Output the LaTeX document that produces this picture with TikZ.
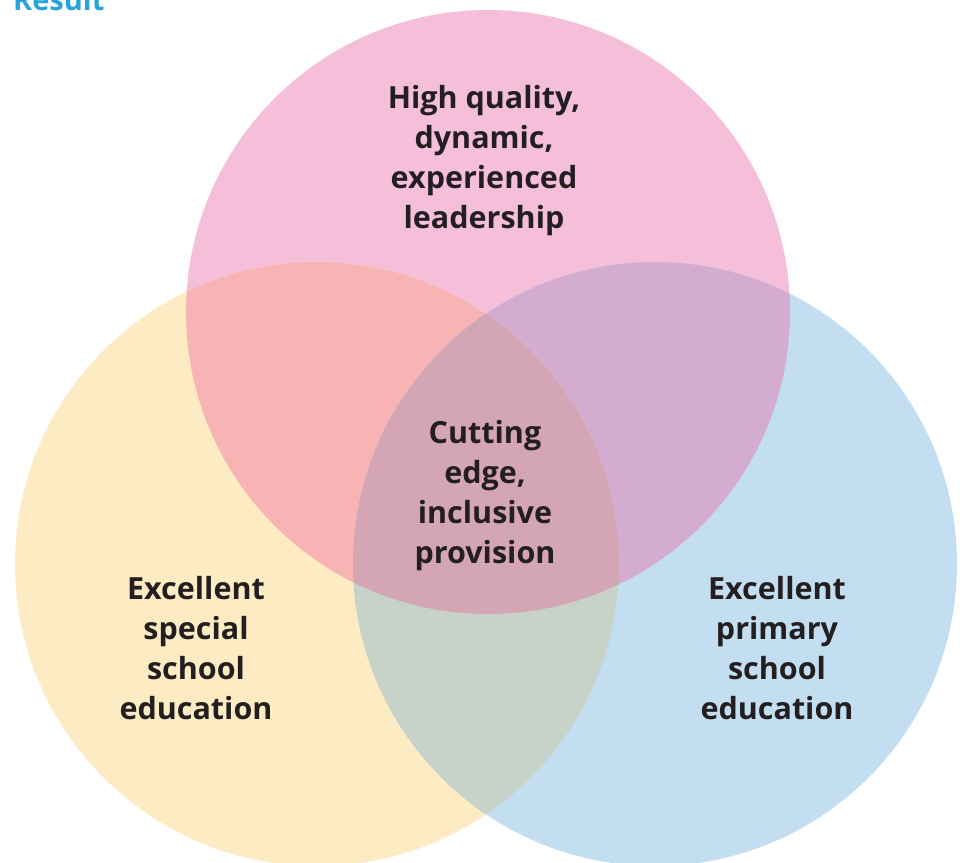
\documentclass[tikz,border=0pt]{standalone}
\usepackage{fontspec}
\setmainfont{Open Sans}
\definecolor{cpink}{HTML}{F6BFD9}
\definecolor{cyellow}{HTML}{FDEBC3}
\definecolor{cblue}{HTML}{C3DEF0}
\definecolor{cpy}{HTML}{F8B4B4}
\definecolor{cpb}{HTML}{D3ACCF}
\definecolor{cyb}{HTML}{C7D2C8}
\definecolor{ccenter}{HTML}{D3A5B5}
\definecolor{ctext}{HTML}{231F20}
\definecolor{cresult}{HTML}{29A3DC}
\begin{document}
\begin{tikzpicture}[x=1pt,y=-1pt,
  lbl/.style={align=center,text=ctext,font=\fontsize{30.5}{40}\selectfont\bfseries,inner sep=0pt}]
\useasboundingbox (0,0) rectangle (960,862);
\def\R{302}
\coordinate (T) at (488,312);
\coordinate (L) at (317,564);
\coordinate (Rt) at (655,564);
\fill[cpink] (T) circle (\R);
\fill[cyellow] (L) circle (\R);
\fill[cblue] (Rt) circle (\R);
\begin{scope}
  \clip (T) circle (\R);
  \fill[cpy] (L) circle (\R);
  \fill[cpb] (Rt) circle (\R);
\end{scope}
\begin{scope}
  \clip (L) circle (\R);
  \fill[cyb] (Rt) circle (\R);
\end{scope}
\begin{scope}
  \clip (T) circle (\R);
  \clip (L) circle (\R);
  \fill[ccenter] (Rt) circle (\R);
\end{scope}
\node[lbl] (top) at (484,161) {High quality,\\dynamic,\\experienced\\leadership};
\node[lbl] (mid) at (485,496) {Cutting\\edge,\\inclusive\\provision};
\node[lbl] (left) at (196,648) {Excellent\\special\\school\\education};
\node[lbl] (right) at (777,648) {Excellent\\primary\\school\\education};
\node[anchor=base west,inner sep=0pt,text=cresult,font=\fontsize{29}{34}\selectfont\bfseries] (res) at (13,10) {Result};
\end{tikzpicture}
\end{document}
